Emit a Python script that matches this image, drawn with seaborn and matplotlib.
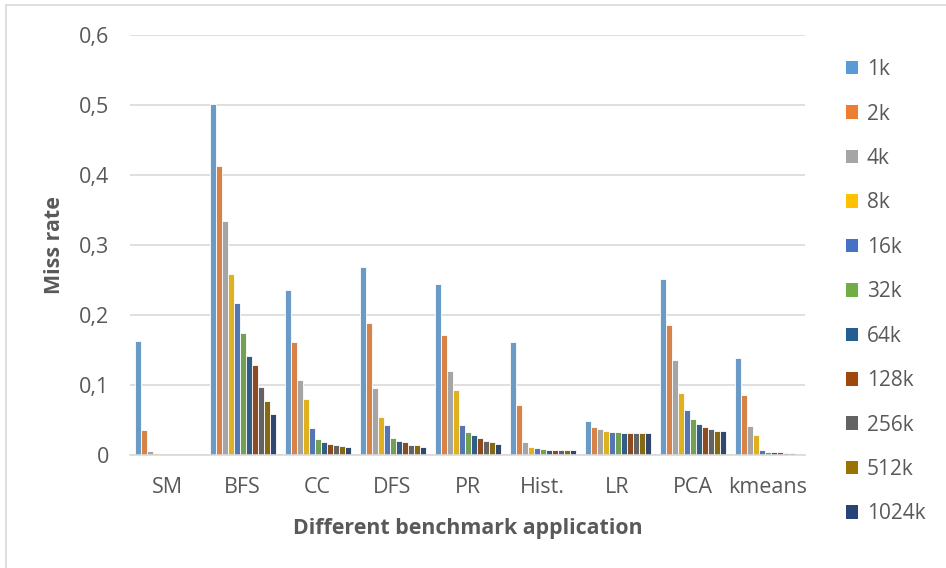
import matplotlib
matplotlib.use("Agg")
import matplotlib.pyplot as plt
import seaborn as sns
import pandas as pd
from matplotlib.patches import Patch
from matplotlib.lines import Line2D

apps = ["SM", "BFS", "CC", "DFS", "PR", "Hist.", "LR", "PCA", "kmeans"]
sizes = ["1k", "2k", "4k", "8k", "16k", "32k", "64k", "128k", "256k", "512k", "1024k"]

sm     = [0.163, 0.036, 0.006, 0.003, 0.0005, 0.0004, 0.0003, 0.0003, 0.0003, 0.0003, 0.0003]
bfs    = [0.502, 0.413, 0.334, 0.259, 0.217, 0.174, 0.142, 0.128, 0.097, 0.077, 0.059]
cc     = [0.236, 0.161, 0.107, 0.080, 0.039, 0.023, 0.019, 0.016, 0.014, 0.013, 0.011]
dfs    = [0.268, 0.188, 0.096, 0.055, 0.043, 0.024, 0.020, 0.018, 0.015, 0.014, 0.012]
pr     = [0.245, 0.171, 0.120, 0.093, 0.043, 0.033, 0.028, 0.024, 0.020, 0.018, 0.016]
hist   = [0.161, 0.072, 0.018, 0.012, 0.0095, 0.008, 0.007, 0.007, 0.007, 0.007, 0.007]
lr     = [0.048, 0.040, 0.037, 0.034, 0.033, 0.033, 0.032, 0.032, 0.032, 0.032, 0.032]
pca    = [0.251, 0.186, 0.136, 0.089, 0.064, 0.052, 0.044, 0.040, 0.037, 0.035, 0.035]
kmeans = [0.138, 0.086, 0.041, 0.029, 0.007, 0.005, 0.004, 0.004, 0.003, 0.003, 0.002]

yticks = [0, 0.1, 0.2, 0.3, 0.4, 0.5, 0.6]
ytick_labels = ["0", "0,1", "0,2", "0,3", "0,4", "0,5", "0,6"]

colors = ["#5B9BD5", "#ED7D31", "#A5A5A5", "#FFC000", "#4472C4", "#70AD47",
          "#255E91", "#9E480E", "#636363", "#997300", "#264478"]

series = [sm, bfs, cc, dfs, pr, hist, lr, pca, kmeans]
rows = []
for app, vals in zip(apps, series):
    for s, v in zip(sizes, vals):
        rows.append({"app": app, "size": s, "rate": v})
df = pd.DataFrame(rows)

sns.set_style("white")
plt.rcParams["font.family"] = ["Open Sans", "DejaVu Sans"]
txt = "#595959"

fig = plt.figure(figsize=(9.46, 5.68), dpi=100)
ax = fig.add_axes([130 / 946, 1 - 455 / 568, 675 / 946, 420 / 568])

sns.barplot(data=df, x="app", y="rate", hue="size", hue_order=sizes,
            order=apps, palette=colors, width=0.88, edgecolor="white",
            linewidth=0.6, ax=ax, legend=False)

ax.set_ylim(0, 0.6)
ax.set_xlim(-0.5, len(apps) - 0.5)
ax.set_yticks(yticks)
ax.set_yticklabels(ytick_labels, fontsize=15.5, color=txt)
ax.tick_params(axis="x", labelsize=15.5, colors=txt, length=0, pad=16)
ax.tick_params(axis="y", length=0, pad=15)
ax.yaxis.grid(True, color="#D9D9D9", linewidth=1.2)
ax.set_axisbelow(True)
for sp in ["top", "right", "left"]:
    ax.spines[sp].set_visible(False)
ax.spines["bottom"].set_color("#D9D9D9")
ax.spines["bottom"].set_linewidth(1.2)

ax.set_xlabel("Different benchmark application", fontsize=15.4, fontweight="bold",
              color=txt, labelpad=14)
ax.set_ylabel("Miss rate", fontsize=15.4, fontweight="bold", color=txt, labelpad=10)

handles = [Patch(facecolor=c, edgecolor="none") for c in colors]
fig.legend(handles, sizes, loc="upper left", bbox_to_anchor=(0.874, 0.929),
           frameon=False, fontsize=15, labelcolor=txt, handlelength=0.62,
           handleheight=0.62, handletextpad=0.4, labelspacing=1.125)

fig.add_artist(Line2D([6 / 946, 6 / 946], [0, 1 - 5 / 568], transform=fig.transFigure,
                      color="#D9D9D9", linewidth=1.2))
fig.add_artist(Line2D([6 / 946, 1], [1 - 5 / 568, 1 - 5 / 568], transform=fig.transFigure,
                      color="#D9D9D9", linewidth=1.2))

fig.savefig("out.png", dpi=100)
